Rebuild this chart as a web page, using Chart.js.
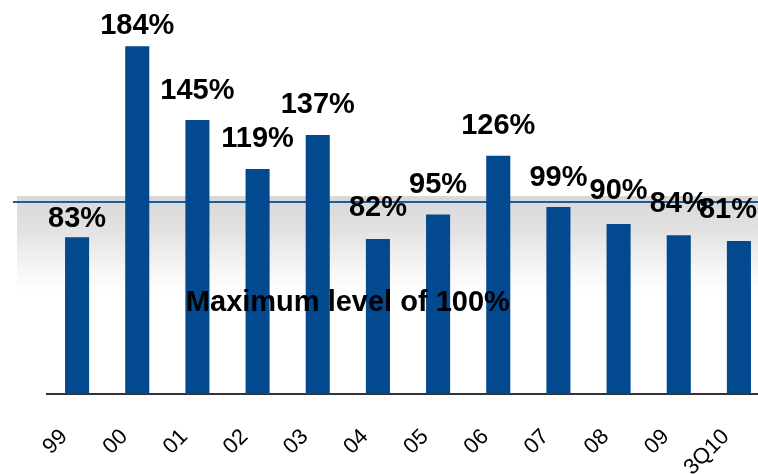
<!DOCTYPE html>
<html>
<head>
<meta charset="utf-8">
<script src="https://cdn.jsdelivr.net/npm/chart.js@4/dist/chart.umd.min.js"></script>
<style>
  html, body { margin: 0; padding: 0; overflow: hidden; background: #ffffff; }
  #wrap { width: 758px; height: 474px; overflow: hidden; }
  canvas { display: block; }
</style>
</head>
<body>
<div id="wrap"><canvas id="chart" width="770" height="474"></canvas></div>
<script>
// Ratio per year, in percent
const categories = ['99', '00', '01', '02', '03', '04', '05', '06', '07', '08', '09', '3Q10'];
const ratios = [83, 184, 145, 119, 137, 82, 95, 126, 99, 90, 84, 81];
const maxLevel = 100;
const maxLevelText = 'Maximum level of 100%';

// Gap in px between each bar top and its value label
const labelGap = [10, 12, 21, 22, 22, 23, 21, 22, 21, 25, 23, 23];

const BAR_COLOR = '#03498F';
const LINE_COLOR = '#1E5C9B';
const VISIBLE_WIDTH = 758;
const LABEL_FONT = 'bold 29px "Liberation Sans", Arial, sans-serif';

// Shaded band and the 100% limit line, drawn behind the bars
const limitBand = {
  id: 'limitBand',
  beforeDatasetsDraw(chart) {
    const { ctx } = chart;
    const y = chart.scales.y.getPixelForValue(maxLevel) - 3;
    const top = y - 6;
    const bottom = y + 92;
    ctx.save();
    const g = ctx.createLinearGradient(0, top, 0, bottom);
    g.addColorStop(0, '#d8d8d8');
    g.addColorStop(0.35, '#e2e2e2');
    g.addColorStop(0.75, '#f6f6f6');
    g.addColorStop(1, '#ffffff');
    ctx.fillStyle = g;
    ctx.fillRect(17, top, chart.width - 17, bottom - top);
    ctx.strokeStyle = LINE_COLOR;
    ctx.lineWidth = 2;
    ctx.beginPath();
    ctx.moveTo(13, y);
    ctx.lineTo(chart.width, y);
    ctx.stroke();
    ctx.restore();
  }
};

// Value labels above the bars and the caption over the bars
const valueLabels = {
  id: 'valueLabels',
  afterDatasetsDraw(chart) {
    const { ctx } = chart;
    const meta = chart.getDatasetMeta(0);
    ctx.save();
    ctx.font = LABEL_FONT;
    ctx.fillStyle = '#000000';
    ctx.textAlign = 'center';
    ctx.textBaseline = 'alphabetic';
    meta.data.forEach((bar, i) => {
      const text = ratios[i] + '%';
      const w = ctx.measureText(text).width;
      let x = bar.x;
      if (x + w / 2 > VISIBLE_WIDTH - 1) x = VISIBLE_WIDTH - 1 - w / 2;
      ctx.fillText(text, x, bar.y - labelGap[i]);
    });
    const xs = chart.scales.x;
    const cx = (xs.getPixelForValue(4) + xs.getPixelForValue(5)) / 2;
    const cy = chart.scales.y.getPixelForValue(44);
    ctx.fillText(maxLevelText, cx, cy);
    ctx.restore();
  }
};

new Chart(document.getElementById('chart'), {
  type: 'bar',
  data: {
    labels: categories,
    datasets: [{
      data: ratios,
      backgroundColor: BAR_COLOR,
      borderWidth: 0,
      barPercentage: 0.4,
      categoryPercentage: 1.0
    }]
  },
  options: {
    responsive: false,
    devicePixelRatio: 1,
    animation: false,
    layout: { autoPadding: false, padding: { top: 16, left: 47, right: 1, bottom: 0 } },
    plugins: { legend: { display: false }, tooltip: { enabled: false } },
    scales: {
      x: {
        offset: true,
        grid: { display: false, drawTicks: false },
        border: { display: true, color: '#333333', width: 2 },
        ticks: {
          color: '#000000',
          font: { family: '"Liberation Sans", Arial, sans-serif', size: 22 },
          minRotation: 45,
          maxRotation: 45,
          padding: 30,
          labelOffset: -13,
          autoSkip: false
        },
        afterFit(scale) {
          scale.height = 80;
          scale.paddingLeft = 0;
          scale.paddingRight = 0;
        }
      },
      y: {
        display: false,
        min: 0,
        max: 200
      }
    }
  },
  plugins: [limitBand, valueLabels]
});
</script>
</body>
</html>
